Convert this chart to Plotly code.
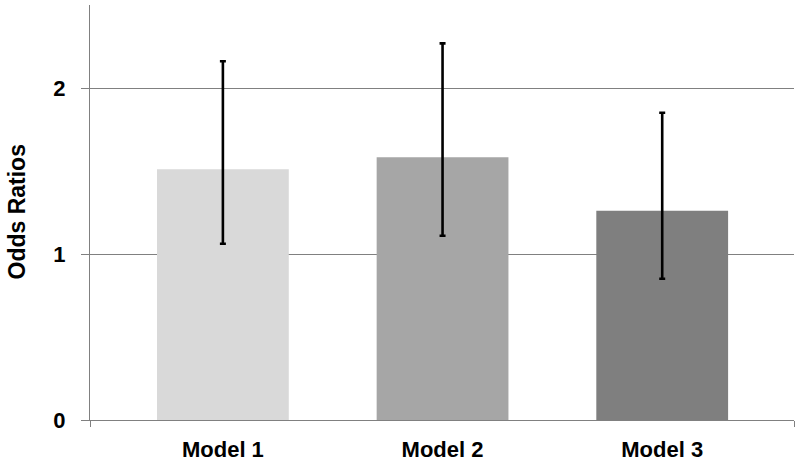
import plotly.graph_objects as go

categories = ["Model 1", "Model 2", "Model 3"]
odds_ratios = [1.51, 1.583, 1.261]
ci_lower = [1.062, 1.110, 0.851]
ci_upper = [2.161, 2.269, 1.851]
bar_colors = ["#d9d9d9", "#a6a6a6", "#7f7f7f"]
y_ticks = [0, 1, 2]

x_pos = [1, 2, 3]
err_plus = [u - v for u, v in zip(ci_upper, odds_ratios)]
err_minus = [v - l for v, l in zip(odds_ratios, ci_lower)]

XR = [0.395, 3.60]
FONT = "Arial, Liberation Sans, sans-serif"

fig = go.Figure()
fig.add_trace(go.Bar(
    x=x_pos, y=odds_ratios, width=0.6,
    marker=dict(color=bar_colors, line=dict(width=0)),
    error_y=dict(type="data", array=err_plus, arrayminus=err_minus,
                 color="black", thickness=2.6, width=3),
    showlegend=False,
))
# invisible trace for the secondary x axis (end tick marks)
fig.add_trace(go.Scatter(x=[XR[1]], y=[0], xaxis="x2", mode="markers",
                         marker=dict(opacity=0), showlegend=False, hoverinfo="skip"))

fig.update_layout(
    width=800, height=461,
    margin=dict(l=90, r=6, t=5, b=41),
    paper_bgcolor="white", plot_bgcolor="white",
    font=dict(family=FONT, color="black"),
    xaxis=dict(range=XR, tickvals=x_pos, ticktext=[f"<b>{c}</b>" for c in categories],
               tickfont=dict(size=22, family=FONT, color="black"),
               showgrid=False, zeroline=False, showline=True, linecolor="#808080",
               linewidth=1, ticks="", ticklabelstandoff=10, fixedrange=True,
               automargin=False),
    xaxis2=dict(range=XR, overlaying="x", side="bottom", tickvals=[XR[0] + 0.001, XR[1]],
                ticks="outside", ticklen=6, tickcolor="#808080", tickwidth=1,
                showticklabels=False, showgrid=False, zeroline=False, showline=False),
    yaxis=dict(range=[0, 2.5], tickvals=y_ticks, ticktext=[f"<b>{t}</b>" for t in y_ticks],
               tickfont=dict(size=22, family=FONT, color="black"),
               showgrid=True, gridcolor="#808080", gridwidth=1,
               zeroline=False, showline=True, linecolor="#808080", linewidth=1,
               ticks="outside", ticklen=8, tickcolor="#808080", ticklabelstandoff=11,
               automargin=False, fixedrange=True),
    annotations=[dict(text="<b>Odds Ratios</b>", xref="paper", yref="paper",
                      x=0, y=0.5, xshift=-74, xanchor="center", yanchor="middle",
                      textangle=-90, showarrow=False,
                      font=dict(size=23, family=FONT, color="black"))],
)
fig.write_html("out.html", config={"displayModeBar": False},
               post_script="document.body.style.margin='0';")
